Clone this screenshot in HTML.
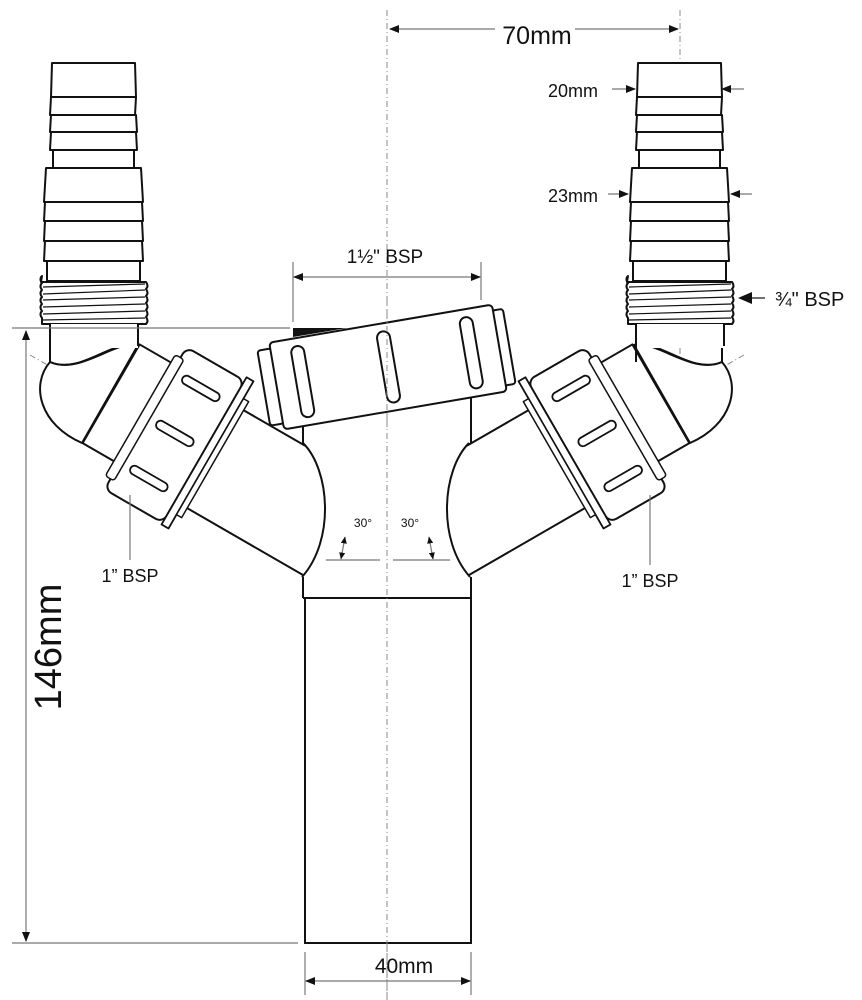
<!DOCTYPE html>
<html><head><meta charset="utf-8"><style>
html,body{margin:0;padding:0;background:#fff;}
svg{display:block;}
text{font-family:"Liberation Sans",Arial,sans-serif;fill:#111;}
</style></head><body>
<svg width="862" height="1000" viewBox="0 0 862 1000" xmlns="http://www.w3.org/2000/svg">
<defs>
<marker id="ar" markerWidth="10" markerHeight="8" refX="9" refY="4" orient="auto-start-reverse" markerUnits="userSpaceOnUse"><path d="M0,0 L10,4 L0,8 z" fill="#111"/></marker>
<marker id="ar2" markerWidth="7" markerHeight="6" refX="6.5" refY="3" orient="auto-start-reverse" markerUnits="userSpaceOnUse"><path d="M0,0 L7,3 L0,6 z" fill="#111"/></marker>
<g id="hose" fill="#fff" stroke="#111" stroke-width="2" stroke-linejoin="round">
  <polygon points="-41,63 42,63 43,97 -42,97"/>
  <polygon points="-42,97 43,97 42,115 -43,115"/>
  <polygon points="-42,115 43,115 44,132 -43,132"/>
  <polygon points="-42,132 43,132 44,150 -43,150"/>
  <rect x="-40" y="150" width="81" height="18"/>
  <polygon points="-47,168 48,168 50,202 -49,202"/>
  <polygon points="-48,202 49,202 50,221 -49,221"/>
  <polygon points="-48,221 49,221 50,241 -49,241"/>
  <polygon points="-48,241 49,241 50,261 -49,261"/>
  <rect x="-46" y="261" width="93" height="20"/>
  <path d="M-52,282 L53,282 q3,4 0,7 q3,4 0,7 q3,4 0,7 q3,4 0,7 q3,4 0,7 q3,4 0,7 L53,324 L-51,324 l0,-6 q-3,-4 0,-7 q-3,-4 0,-7 q-3,-4 0,-7 q-3,-4 0,-7 q-3,-4 0,-7 q-3,-4 0,-7z"/>
  <g stroke-width="1.2">
    <line x1="-50" y1="287" x2="52" y2="284"/><line x1="-50" y1="294" x2="52" y2="290"/>
    <line x1="-50" y1="300" x2="52" y2="297"/><line x1="-50" y1="307" x2="52" y2="304"/>
    <line x1="-50" y1="314" x2="52" y2="311"/><line x1="-50" y1="320" x2="52" y2="318"/>
  </g>
  <rect x="-43" y="324" width="88" height="24" stroke="none"/>
  <line x1="-43" y1="324" x2="-43" y2="362"/><line x1="45" y1="324" x2="45" y2="346"/>
</g>
<g id="arm" fill="#fff" stroke="#111" stroke-width="2" stroke-linejoin="round">
  <path d="M50,348 L50,362 C30,385 40,425 82,443 L138,345 C115,340 80,375 50,362 Z"/>
  <path d="M50,362 C80,375 110,340 138,345" fill="none"/>
  <g transform="translate(387,560) rotate(30)">
    <path d="M-205,-58 L-128,-58 L-64,55 L-205,55 Z" stroke="none"/>
    <line x1="-205" y1="-58" x2="-128" y2="-58"/>
    <line x1="-205" y1="55" x2="-64" y2="55"/>
    <rect x="-322" y="-63" width="46" height="114"/>
    <rect x="-280" y="-84" width="67" height="164" rx="8"/>
    <rect x="-286" y="-72" width="10" height="140" rx="3" stroke-width="1.5"/>
    <rect x="-213" y="-88" width="8" height="170" stroke-width="1.8"/>
    <rect x="-205" y="-68" width="6" height="134" stroke-width="1.5"/>
    <rect x="-268" y="-60" width="42" height="9" rx="4.5" stroke-width="1.8"/>
    <rect x="-268" y="-8" width="42" height="9" rx="4.5" stroke-width="1.8"/>
    <rect x="-268" y="44" width="42" height="9" rx="4.5" stroke-width="1.8"/>
  </g>
  <path d="M303,443 C330,470 335,540 302,577" fill="none"/>
</g>
</defs>

<g stroke="#888" stroke-width="1" stroke-dasharray="6,3,1,3" fill="none">
  <line x1="387" y1="10" x2="387" y2="1000"/>
  <line x1="680" y1="10" x2="680" y2="400"/>
  <line x1="30" y1="355" x2="387" y2="560"/>
  <line x1="744" y1="355" x2="387" y2="560"/>
</g>

<g fill="#fff" stroke="#111" stroke-width="2">
  <rect x="303" y="420" width="168" height="178" stroke="none"/>
  <line x1="303" y1="420" x2="303" y2="443"/>
  <line x1="471" y1="395" x2="471" y2="443"/>
  <line x1="303" y1="577" x2="303" y2="598"/>
  <line x1="471" y1="577" x2="471" y2="598"/>
  <line x1="303" y1="598" x2="471" y2="598"/>
  <rect x="305" y="598" width="166" height="345"/>
</g>
<line x1="387" y1="420" x2="387" y2="1000" stroke="#888" stroke-width="1" stroke-dasharray="6,3,1,3"/>

<use href="#arm"/>
<g transform="translate(772,0) scale(-1,1)"><use href="#arm"/></g>

<use href="#hose" x="93"/>
<use href="#hose" x="679"/>

<polygon points="293,328 347,328 293,337" fill="#111"/>
<g transform="translate(388,367) rotate(-9.7)" fill="#fff" stroke="#111" stroke-width="2">
  <rect x="-126" y="-38" width="14" height="76" rx="3"/>
  <rect x="112" y="-38" width="11" height="76" rx="3"/>
  <rect x="-113" y="-44" width="226" height="88" rx="4"/>
  <rect x="-93" y="-36" width="13" height="72" rx="6.5"/>
  <rect x="-6" y="-36" width="13" height="72" rx="6.5"/>
  <rect x="78" y="-36" width="13" height="72" rx="6.5"/>
</g>
<line x1="387" y1="300" x2="387" y2="430" stroke="#888" stroke-width="1" stroke-dasharray="6,3,1,3"/>

<g stroke="#777" stroke-width="1.2" fill="none">
  <line x1="390" y1="29" x2="495" y2="29" marker-start="url(#ar)"/>
  <line x1="575" y1="29" x2="678" y2="29" marker-end="url(#ar)"/>
  <line x1="293" y1="262" x2="293" y2="322"/>
  <line x1="481" y1="262" x2="481" y2="300"/>
  <line x1="294" y1="277" x2="480" y2="277" marker-start="url(#ar)" marker-end="url(#ar)"/>
  <line x1="12" y1="328" x2="290" y2="328"/>
  <line x1="12" y1="943" x2="298" y2="943"/>
  <line x1="26" y1="331" x2="26" y2="941" marker-start="url(#ar)" marker-end="url(#ar)"/>
  <line x1="305" y1="952" x2="305" y2="995"/>
  <line x1="471" y1="952" x2="471" y2="995"/>
  <line x1="306" y1="981" x2="470" y2="981" marker-start="url(#ar)" marker-end="url(#ar)"/>
  <line x1="612" y1="89" x2="635" y2="89" marker-end="url(#ar)"/>
  <line x1="744" y1="89" x2="722" y2="89" marker-end="url(#ar)"/>
  <line x1="608" y1="194" x2="628" y2="194" marker-end="url(#ar)"/>
  <line x1="752" y1="194" x2="731" y2="194" marker-end="url(#ar)"/>
  <line x1="326" y1="560" x2="380" y2="560"/>
  <line x1="393" y1="560" x2="450" y2="560"/>
  <line x1="345" y1="537" x2="341" y2="559" marker-start="url(#ar2)" marker-end="url(#ar2)"/>
  <line x1="429" y1="537" x2="433" y2="559" marker-start="url(#ar2)" marker-end="url(#ar2)"/>
  <line x1="130" y1="495" x2="130" y2="560"/>
  <line x1="650" y1="495" x2="650" y2="565"/>
</g>
<line x1="765" y1="298" x2="750" y2="298" stroke="#111" stroke-width="1.2"/>
<polygon points="738,298 752,292 752,304" fill="#111"/>

<text x="537" y="44" font-size="25" text-anchor="middle">70mm</text>
<text x="548" y="97" font-size="18">20mm</text>
<text x="548" y="202" font-size="18">23mm</text>
<text x="775" y="306" font-size="20">¾" BSP</text>
<text x="385" y="263" font-size="19" text-anchor="middle">1½" BSP</text>
<text x="363" y="527" font-size="12" text-anchor="middle">30°</text>
<text x="410" y="527" font-size="12" text-anchor="middle">30°</text>
<text x="130" y="582" font-size="18" text-anchor="middle">1” BSP</text>
<text x="650" y="587" font-size="18" text-anchor="middle">1” BSP</text>
<text x="404" y="973" font-size="21" text-anchor="middle">40mm</text>
<text transform="translate(61,647) rotate(-90)" font-size="38" text-anchor="middle">146mm</text>
</svg>
</body></html>
